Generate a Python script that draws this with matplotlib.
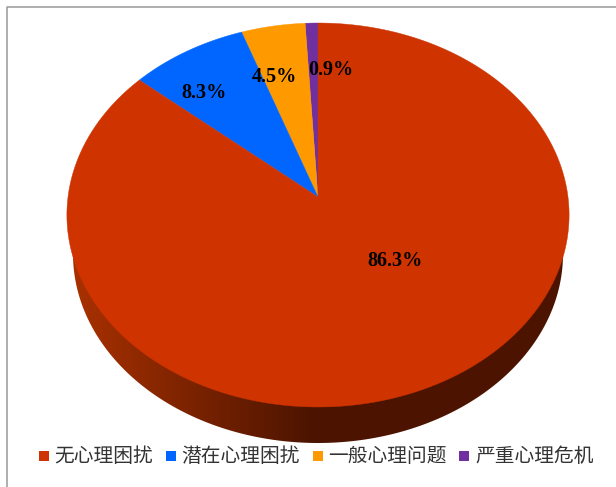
#!/usr/bin/env python
# -*- coding: utf-8 -*-
import numpy as np
import matplotlib
matplotlib.use("Agg")
import matplotlib.pyplot as plt
from matplotlib.patches import Polygon, Rectangle

labels = ['无心理困扰', '潜在心理困扰', '一般心理问题', '严重心理危机']
values = [86.3, 8.3, 4.5, 0.9]
colors = ['#CF3300', '#0066FF', '#FF9900', '#7030A0']

W, H = 616, 487

# 透视投影参数(像素)
CX, APEX_Y = 318, 197
KX, KY, C = 250, -171.84, 0.09375


def project(u, v):
    w = 1 + C * v
    return CX + KX * u / w, (APEX_Y + KY * v) / w


fig = plt.figure(figsize=(W / 100, H / 100), dpi=100)
ax = fig.add_axes([0, 0, 1, 1])
ax.set_xlim(0, W)
ax.set_ylim(H, 0)
ax.axis('off')

# 边框
ax.plot([6.5, 6.5, W], [H, 6.5, 6.5], color='#999999', lw=1.1)

# 侧面: 渐变,裁剪到下方椭圆
t = np.linspace(0, 2 * np.pi, 400)
wall = Polygon(np.c_[318 + 245 * np.cos(t), 254 + 189 * np.sin(t)],
               closed=True, fc='none', ec='none')
ax.add_patch(wall)
grad = np.clip((np.linspace(60, 580, 300) - 75) / 235, 0, 1)
c0, c1 = np.array([0.66, 0.19, 0.0]), np.array([0.30, 0.08, 0.0])
img = (c0 + (c1 - c0) * grad[:, None])[None, :, :]
im = ax.imshow(img, extent=[60, 580, 445, 200], aspect='auto', zorder=1)
im.set_clip_path(wall)
ax.set_xlim(0, W)
ax.set_ylim(H, 0)

# 顶面扇区,从12点方向逆时针
edges = np.cumsum([0] + values[::-1]) / 100 * 2 * np.pi
for i, color in enumerate(colors[::-1]):
    a = np.linspace(edges[i], edges[i + 1], 300)
    x, y = project(-np.sin(a), np.cos(a))
    pts = np.r_[[[CX, APEX_Y]], np.c_[x, y]]
    ax.add_patch(Polygon(pts, closed=True, fc=color, ec=color, lw=0.3, zorder=2))

# 数值标签
label_pos = [(395, 260.5), (204, 93.5), (274, 77), (331, 70)]
for value, (lx, ly) in zip(values, label_pos):
    ax.text(lx, ly, f'{value}%', ha='center', va='center', zorder=3,
            fontsize=14.5, fontweight='bold', family='Liberation Serif', color='black')

# 图例
legend_sq = [39, 166, 313, 459]
legend_tx = [54, 181, 328, 475]
for name, color, sx, tx in zip(labels, colors, legend_sq, legend_tx):
    ax.add_patch(Rectangle((sx, 451), 10, 10, fc=color, ec='none', zorder=3))
    ax.text(tx, 456, name, ha='left', va='center', fontsize=14.2,
            family=['Noto Sans CJK SC', 'DejaVu Sans'], color='#333333')

fig.savefig('out.png', dpi=100)
